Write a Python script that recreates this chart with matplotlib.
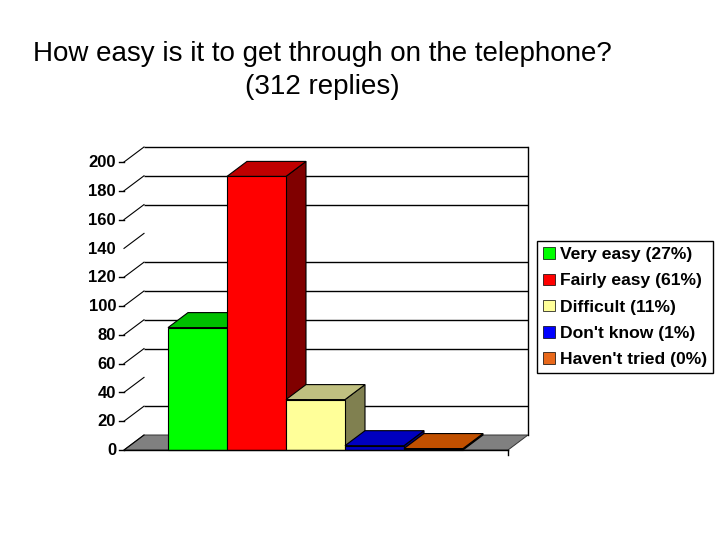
import matplotlib
matplotlib.use("Agg")
import matplotlib.pyplot as plt
from matplotlib.patches import Polygon, Patch

categories = ["Very easy (27%)", "Fairly easy (61%)", "Difficult (11%)", "Don't know (1%)", "Haven't tried (0%)"]
values = [85, 190, 35, 3, 1]
front_colors = ["#00ff00", "#ff0000", "#ffff99", "#0000c0", "#d85c10"]
top_colors = ["#00c000", "#c00000", "#c0c080", "#0000c0", "#c05000"]
side_colors = ["#008000", "#800000", "#808050", "#000080", "#803000"]
legend_colors = ["#00ff00", "#ff0000", "#ffff99", "#0000ff", "#e8681a"]
y_ticks = [0, 20, 40, 60, 80, 100, 120, 140, 160, 180, 200]
grid_levels = [20, 60, 80, 100, 120, 160, 180, 200]
no_tick_levels = [140]
title = "How easy is it to get through on the telephone?\n(312 replies)"

plt.rcParams["font.family"] = ["Liberation Sans", "DejaVu Sans"]

W, H = 720, 540
PX_X, PX_Y = 59.0, 1.44        # pixels per category, pixels per unit
X0, Y0 = 124.0, 450.0          # pixel of the chart's front-left origin
DX, DY = 20 / PX_X, 15 / PX_Y  # depth of the 3-D effect in data units
START = 44 / PX_X
XEND = 384 / PX_X

fig = plt.figure(figsize=(7.2, 5.4), dpi=100)
ax = fig.add_axes([0, 0, 1, 1])
ax.set_xlim(-X0 / PX_X, (W - X0) / PX_X)
ax.set_ylim(-(H - Y0) / PX_Y, Y0 / PX_Y)
ax.axis("off")

# floor
ax.add_patch(Polygon([(0, 0), (XEND, 0), (XEND + DX, DY), (DX, DY)],
                     fc="#808080", ec="#333333", lw=0.7, zorder=1))
# back wall grid and right edge
for lv in grid_levels:
    ax.plot([DX, XEND + DX], [lv + DY, lv + DY], color="black", lw=1.0, zorder=1, solid_capstyle="butt")
ax.plot([XEND + DX] * 2, [DY, 200 + DY], color="black", lw=1.0, zorder=1)
ax.plot([XEND, XEND], [0, -5 / PX_Y], color="black", lw=1, zorder=1)

# y ticks and labels
for lv in y_ticks:
    ax.plot([0, DX], [lv, lv + DY], color="black", lw=0.8, zorder=1)
    if lv not in no_tick_levels:
        ax.plot([-5 / PX_X, 0], [lv, lv], color="black", lw=1, zorder=1)
    ax.text(-8 / PX_X, lv + 0.6, str(lv), ha="right", va="center_baseline",
            fontsize=12, fontweight="bold", color="black", zorder=3)

# bars
for i, v in enumerate(values):
    x0 = START + i
    x1 = x0 + 1
    z = 2 + i * 0.01
    ax.add_patch(Polygon([(x1, 0), (x1 + DX, DY), (x1 + DX, v + DY), (x1, v)],
                         fc=side_colors[i], ec="black", lw=0.8, zorder=z))
    ax.add_patch(Polygon([(x0, v), (x1, v), (x1 + DX, v + DY), (x0 + DX, v + DY)],
                         fc=top_colors[i], ec="black", lw=0.8, zorder=z))
    ax.add_patch(Polygon([(x0, 0), (x1, 0), (x1, v), (x0, v)],
                         fc=front_colors[i], ec="black", lw=0.8, zorder=z))
ax.plot([0, XEND], [0, 0], color="black", lw=1, zorder=3)

# legend
handles = [Patch(fc=c, ec="black", lw=0.5) for c in legend_colors]
leg = ax.legend(handles, categories, loc="upper left",
                bbox_to_anchor=(537 / W, 1 - 241 / H), bbox_transform=fig.transFigure,
                fancybox=False, framealpha=1, edgecolor="black", borderaxespad=0,
                prop={"size": 12.6, "weight": "bold"}, handlelength=0.65, handleheight=0.65,
                handletextpad=0.3, labelspacing=0.64, borderpad=0.36)
leg.get_frame().set_linewidth(1)

fig.text(322 / W, 1 - 70.5 / H, title, ha="center", va="center", fontsize=20, linespacing=1.38, color="black")

fig.savefig("out.png", dpi=100)
